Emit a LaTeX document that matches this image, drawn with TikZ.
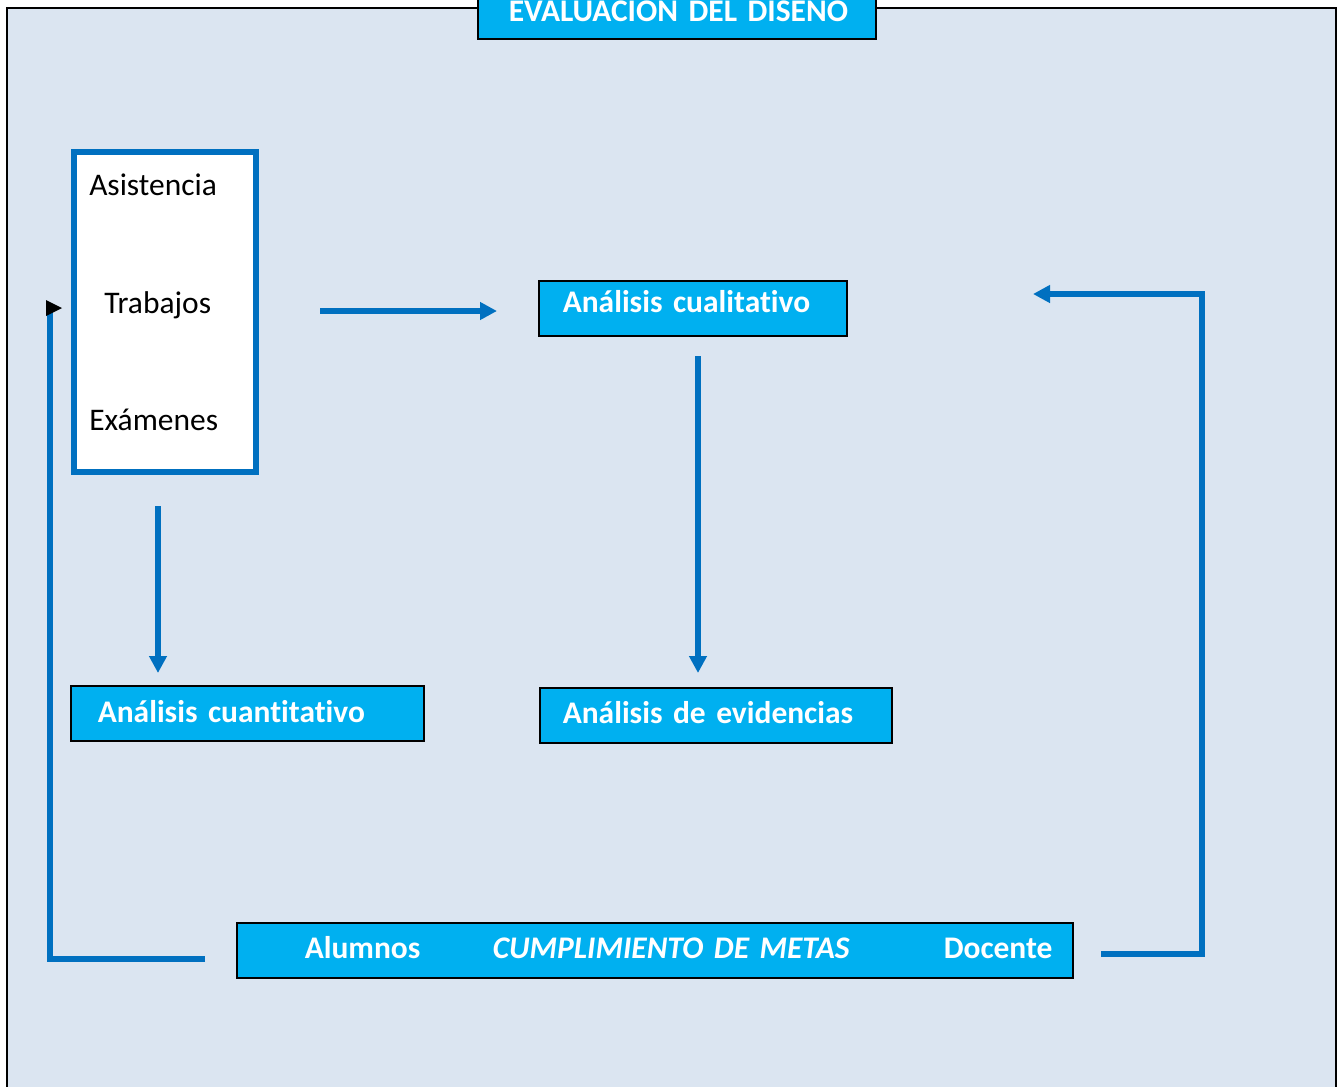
\documentclass[tikz,border=0pt]{standalone}
\usepackage{fontspec}
\setmainfont{Carlito}[Ligatures=NoCommon]
\usetikzlibrary{arrows.meta}
\newdimen\px \px=0.75pt
\definecolor{bgc}{HTML}{DBE5F1}
\definecolor{boxc}{HTML}{00B0F0}
\definecolor{linec}{HTML}{0070C0}
\begin{document}
\begin{tikzpicture}[x=0.75pt,y=-0.75pt,
  every node/.style={font=\fontsize{23.6pt}{28pt}\selectfont},
  bluebox/.style={draw=black, line width=1.5\px, fill=boxc, text=white,
    font=\fontsize{23.6pt}{28pt}\selectfont\bfseries, inner xsep=0pt, inner ysep=0pt,
    align=left, anchor=north west, text height=22\px, text depth=5\px},
  inbox/.style={draw=linec, line width=6\px, fill=white, inner sep=0pt,
    minimum width=182\px, minimum height=319.5\px},
  plain/.style={inner sep=0pt, anchor=base west, text=black},
  conn/.style={draw=linec, line width=5.5\px},
  tip/.style={-{Triangle[length=12.75pt,width=12.75pt]}},
]
\useasboundingbox (0,0) rectangle (1339,1086);
\clip (0,0) rectangle (1339,1086);
\fill[white] (0,0) rectangle (1339,1086);
% frame
\draw[fill=bgc, line width=2\px] (7,8) rectangle (1336,1100);
% title
\node[bluebox, text width=398\px, minimum height=58\px, text height=24\px, text depth=0pt] (title) at (477,-20) {\mbox{\hspace*{31\px}EVALUACION DEL DISENO}};
% input box
\node[inbox] (inputs) at (165,311.75) {};
\node[plain] (asis) at (89,195) {Asistencia};
\node[plain] (trab) at (104,313) {Trabajos};
\node[plain] (exam) at (89,430) {Exámenes};
% blue boxes
\node[bluebox, text width=308\px, minimum height=55\px, text depth=13\px] (cual) at (538,280) {\mbox{\hspace*{24\px}Análisis cualitativo}};
\node[bluebox, text width=353\px, minimum height=55\px, text depth=3\px] (cuan) at (70,685) {\mbox{\hspace*{27\px}Análisis cuantitativo}};
\node[bluebox, text width=352\px, minimum height=55\px] (evid) at (539,687) {\mbox{\hspace*{23\px}Análisis de evidencias}};
\node[bluebox, text width=836\px, minimum height=55\px] (metas) at (236,922) {\mbox{\hspace*{68\px}\makebox[188\px][l]{Alumnos}\makebox[451\px][l]{\itshape CUMPLIMIENTO DE METAS}Docente}};
% connector ends
\coordinate (c1s) at (320,311);
\coordinate (c1e) at (497,311);
\coordinate (c2s) at (698,356);
\coordinate (c2e) at (698,673);
\coordinate (c3s) at (158,506);
\coordinate (c3e) at (158,673);
\coordinate (c4s) at (205,959);
\coordinate (c4e) at (50,308);
\coordinate (c5s) at (1101,954);
\coordinate (c5c) at (1202,294);
\coordinate (c5e) at (1033,294);
% connectors
\draw[conn,tip] (c1s) -- (c1e);
\draw[conn,tip] (c2s) -- (c2e);
\draw[conn,tip] (c3s) -- (c3e);
\draw[conn] (c4s) -| (c4e);
\fill[black] ([xshift=-4\px,yshift=8\px]c4e) -- ([xshift=12\px]c4e) -- ([xshift=-4\px,yshift=-8\px]c4e) -- cycle;
\draw[conn,tip] (c5s) -| (c5c) -- (c5e);
\end{tikzpicture}
\end{document}
